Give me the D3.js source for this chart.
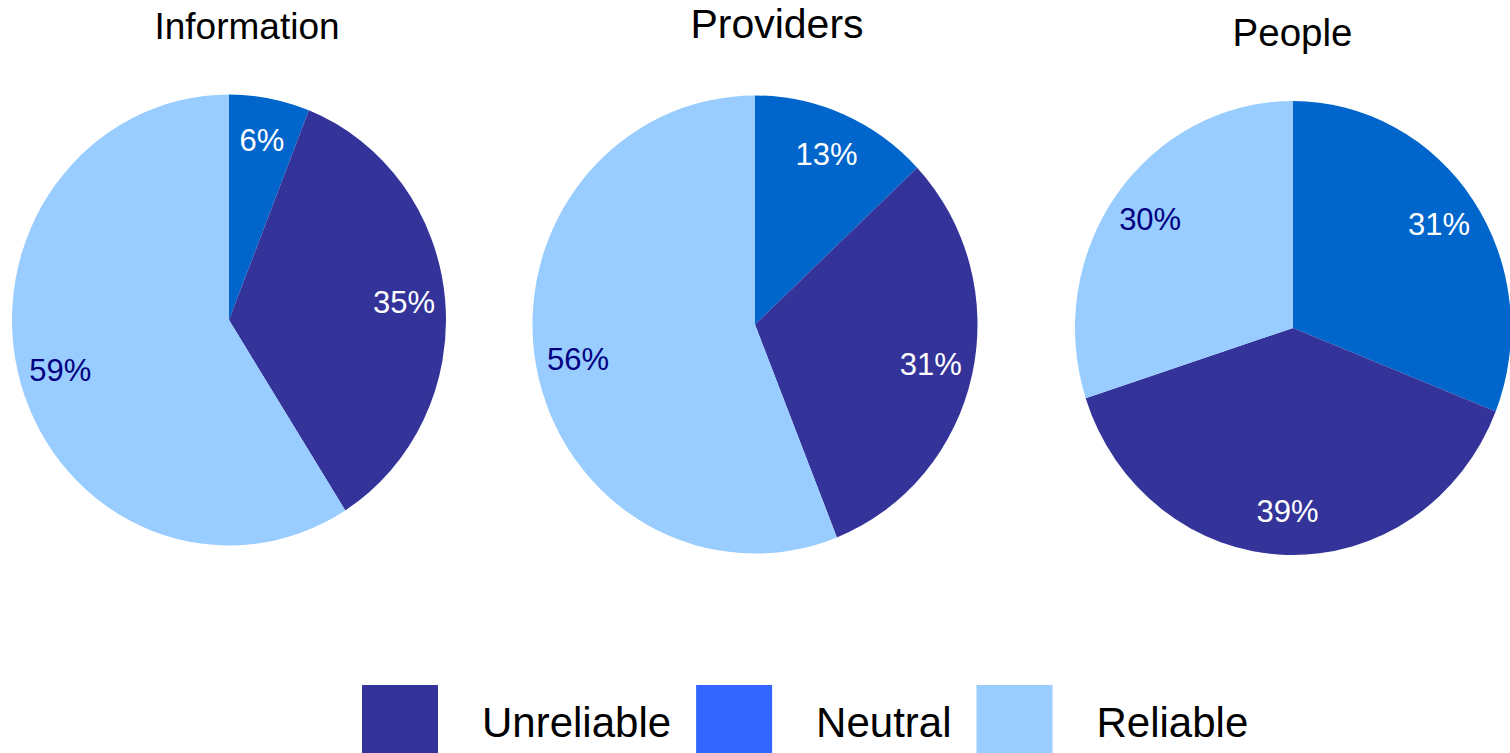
<!DOCTYPE html>
<html>
<head>
<meta charset="utf-8">
<script src="https://cdn.jsdelivr.net/npm/d3@7"></script>
<style>
  html, body { margin: 0; padding: 0; background: #fff; }
  svg { display: block; font-family: "Liberation Sans", Arial, sans-serif; }
</style>
</head>
<body>
<div class="pie-container"></div>
<script>
// Data (slices run clockwise from 12 o'clock: Neutral, Unreliable, Reliable)
const charts = ['Information', 'Providers', 'People'];
const sliceOrder = ['Neutral', 'Unreliable', 'Reliable'];
const neutral = [6, 13, 31];
const unreliable = [35, 31, 39];
const reliable = [59, 56, 30];
const legendOrder = ['Unreliable', 'Neutral', 'Reliable'];

const width = 1510;
const height = 753;

const svg = d3
    .select('.pie-container')
    .append('svg')
    .attr('width', width)
    .attr('height', height);

// Slice colours, legend swatch colours and label colours
const fill = d3.scaleOrdinal()
    .domain(sliceOrder)
    .range(['#0066cc', '#333399', '#99ccff']);
const legendFill = d3.scaleOrdinal()
    .domain(sliceOrder)
    .range(['#3366ff', '#333399', '#99ccff']);
const labelFill = d3.scaleOrdinal()
    .domain(sliceOrder)
    .range(['#ffffff', '#ffffff', '#000080']);

// Where each pie sits (pies are slightly taller than wide)
const layout = [
    {cx: 229, cy: 320, rx: 217, ry: 225.5, titleX: 247, titleY: 39, titleSize: 37},
    {cx: 755, cy: 324.5, rx: 222.5, ry: 229, titleX: 777, titleY: 38, titleSize: 41},
    {cx: 1293, cy: 328, rx: 218, ry: 227, titleX: 1292.5, titleY: 46, titleSize: 38.5}
];

const R = 100;
const pie = d3.pie().sort(null).value(d => d.value);
const arc = d3.arc().innerRadius(0).outerRadius(R);
const labelArc = d3.arc().innerRadius(R * 0.81).outerRadius(R * 0.81);

charts.forEach((name, i) => {
    const values = [
        {key: 'Neutral', value: neutral[i]},
        {key: 'Unreliable', value: unreliable[i]},
        {key: 'Reliable', value: reliable[i]}
    ];
    const box = layout[i];
    const arcs = pie(values);

    svg.append('text')
        .attr('x', box.titleX)
        .attr('y', box.titleY)
        .attr('text-anchor', 'middle')
        .style('font-size', box.titleSize + 'px')
        .style('fill', '#000')
        .text(name);

    svg.append('g')
        .attr('transform', `translate(${box.cx}, ${box.cy}) scale(${box.rx / R}, ${box.ry / R})`)
        .selectAll('path')
        .data(arcs)
        .enter()
        .append('path')
        .attr('d', arc)
        .style('fill', d => fill(d.data.key));

    svg.append('g')
        .attr('transform', `translate(${box.cx}, ${box.cy})`)
        .selectAll('text')
        .data(arcs)
        .enter()
        .append('text')
        .attr('x', d => labelArc.centroid(d)[0] * box.rx / R)
        .attr('y', d => labelArc.centroid(d)[1] * box.ry / R)
        .attr('text-anchor', 'middle')
        .attr('dominant-baseline', 'central')
        .style('font-size', '31px')
        .style('fill', d => labelFill(d.data.key))
        .text(d => d.data.value + '%');
});

// Legend, laid out left to right
const legend = svg.append('g').attr('class', 'legend');
let lx = 362;
legendOrder.forEach(key => {
    legend.append('rect')
        .attr('x', lx)
        .attr('y', 685)
        .attr('width', 76)
        .attr('height', 76)
        .style('fill', legendFill(key));
    const t = legend.append('text')
        .attr('x', lx + 76 + 44)
        .attr('y', 737)
        .style('font-size', '42px')
        .style('fill', '#000')
        .text(key);
    lx = lx + 76 + 44 + t.node().getComputedTextLength() + 25;
});
</script>
</body>
</html>
